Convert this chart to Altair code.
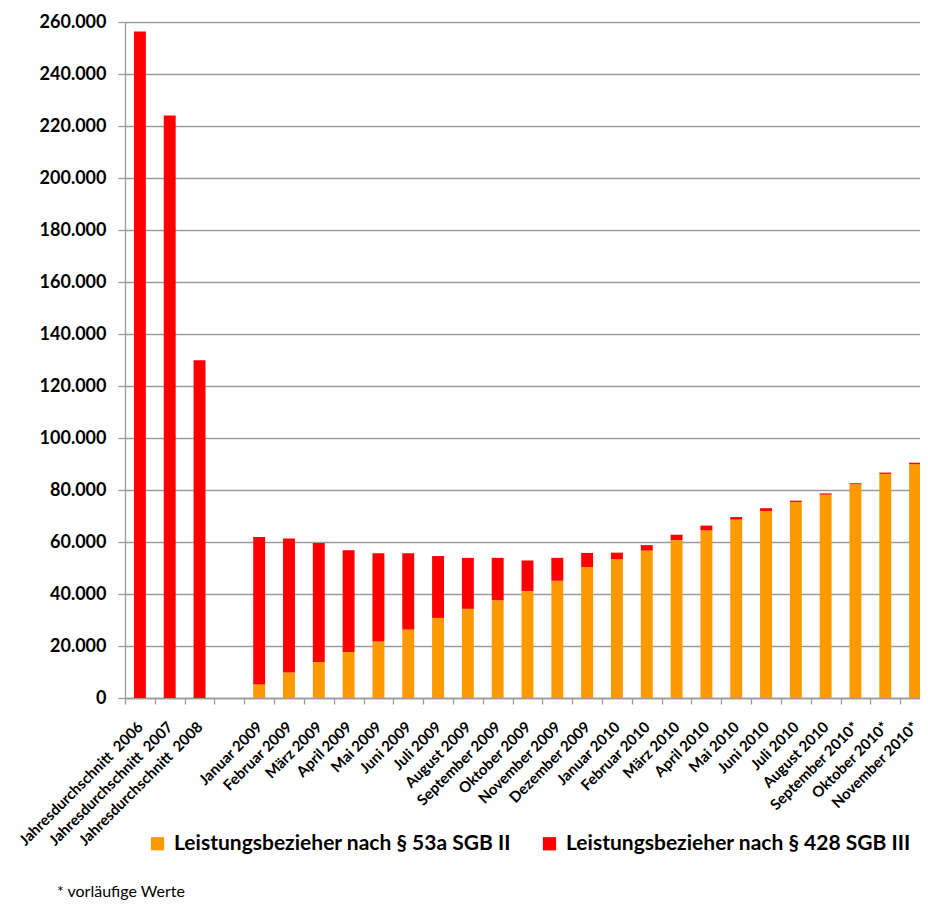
import altair as alt
import pandas as pd

categories = [
    "Jahresdurchschnitt\u00a0 2006", "Jahresdurchschnitt\u00a0 2007", "Jahresdurchschnitt\u00a0 2008", " ",
    "Januar 2009", "Februar 2009", "März 2009", "April 2009", "Mai 2009", "Juni 2009",
    "Juli 2009", "August 2009", "September 2009", "Oktober 2009", "November 2009",
    "Dezember 2009", "Januar 2010", "Februar 2010", "März 2010", "April 2010", "Mai 2010",
    "Juni 2010", "Juli 2010", "August 2010", "September 2010*", "Oktober 2010*",
    "November 2010*",
]
# categories that carry data (the blank slot has none)
data_categories = [c for c in categories if c.strip()]

sgb2 = [0, 0, 0,
        5200, 9800, 13800, 17700, 21700, 26300, 30800, 34300, 37600, 41100, 45100, 50300,
        53300, 56700, 60700, 64500, 68600, 71900, 75400, 78200, 82200, 86200, 89900]
sgb3 = [256300, 224000, 129900,
        56700, 51500, 45800, 39100, 34000, 29400, 23800, 19600, 16300, 11800, 8800, 5500,
        2600, 2100, 2100, 1800, 1000, 1100, 500, 500, 400, 500, 600]

series_names = ["Leistungsbezieher nach § 53a SGB II", "Leistungsbezieher nach § 428 SGB III"]
series_colors = ["#FF9900", "#FF0000"]
y_ticks = list(range(0, 260001, 20000))
footnote = "* vorläufige Werte"

rows = []
for c, a, b in zip(data_categories, sgb2, sgb3):
    rows.append({"Monat": c, "Serie": series_names[0], "Wert": a, "rank": 0})
    rows.append({"Monat": c, "Serie": series_names[1], "Wert": b, "rank": 1})
df = pd.DataFrame(rows)

FONT = "Lato"

chart = alt.Chart(df).mark_bar(width=alt.RelativeBandSize(0.4)).encode(
    x=alt.X("Monat:N", sort=categories,
            scale=alt.Scale(domain=categories, paddingInner=0, paddingOuter=0),
            axis=alt.Axis(title=None, labelAngle=-45, labelAlign="right", labelBaseline="middle",
                          tickBand="extent", tickSize=6, labelPadding=20,
                          labelFont=FONT, labelFontSize=15, labelFontWeight="bold",
                          labelColor="#000000", domainColor="#9a9a9a", tickColor="#9a9a9a",
                          domainWidth=1.3, tickWidth=1.3, grid=False, labelLimit=300)),
    y=alt.Y("Wert:Q", stack="zero",
            scale=alt.Scale(domain=[0, 260000], nice=False),
            axis=alt.Axis(title=None, values=y_ticks,
                          labelExpr="replace(format(datum.value, ',d'), ',', '.')",
                          labelFont=FONT, labelFontSize=18, labelFontWeight="bold",
                          labelColor="#000000", labelPadding=12, tickSize=7,
                          grid=True, gridColor="#9a9a9a", gridWidth=1.3,
                          domainColor="#9a9a9a", tickColor="#9a9a9a",
                          domainWidth=1.3, tickWidth=1.3)),
    color=alt.Color("Serie:N",
                    scale=alt.Scale(domain=series_names, range=series_colors),
                    legend=alt.Legend(title=None, orient="none", legendX=22, legendY=811,
                                      direction="horizontal", symbolType="square",
                                      symbolSize=175, symbolStrokeWidth=0,
                                      labelFont=FONT, labelFontSize=21, labelFontWeight="bold",
                                      labelColor="#000000", columnPadding=28, labelOffset=6,
                                      labelLimit=500)),
    order=alt.Order("rank:Q", sort="ascending"),
).properties(
    width=805, height=676,
    autosize=alt.AutoSizeParams(type="none"),
    padding={"left": 117, "top": 14, "right": -10, "bottom": 204},
    title=alt.TitleParams(footnote, orient="bottom", anchor="start", frame="group",
                          font=FONT, fontSize=16, fontWeight="normal", color="#000000",
                          dx=-68, offset=30),
).configure_view(stroke=None).configure(background="white")

chart.save("out.html", embed_options={"renderer": "svg", "actions": False})
